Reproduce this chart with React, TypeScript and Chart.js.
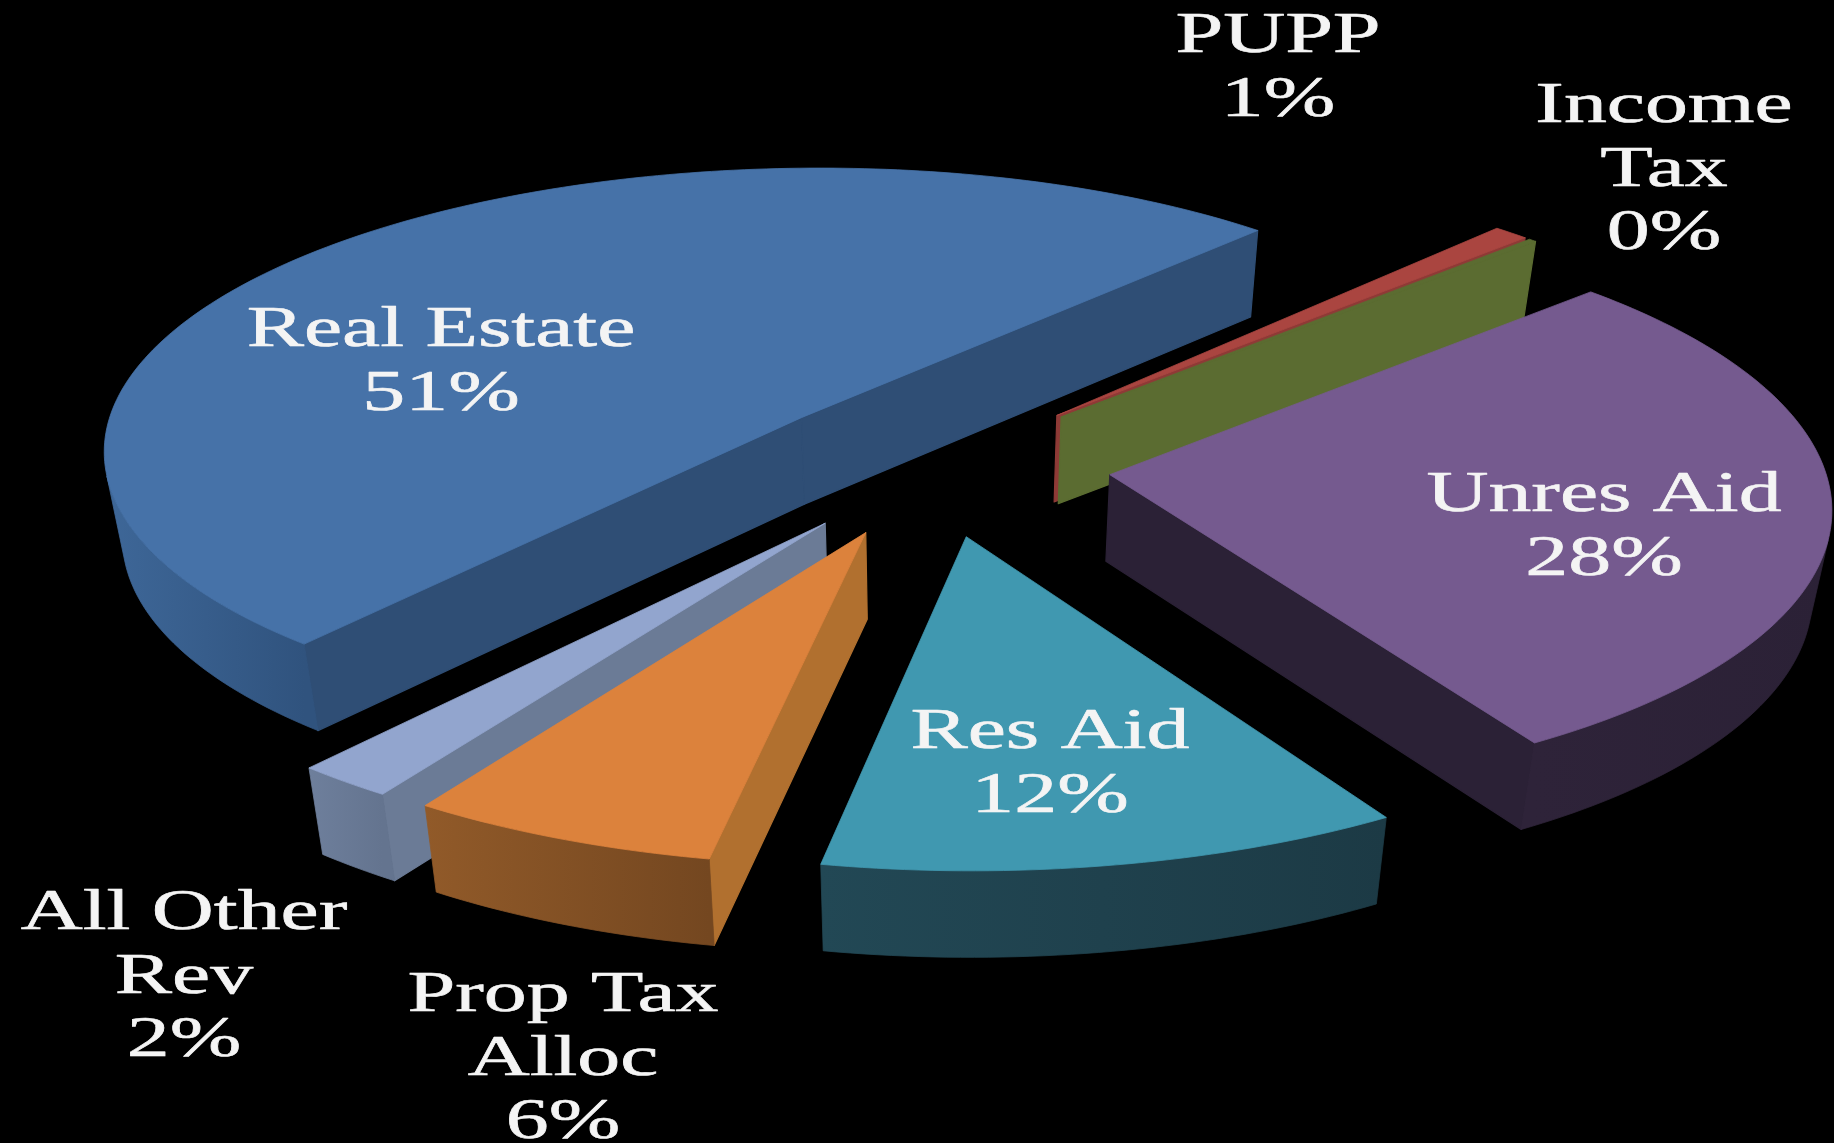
import React, { useEffect, useRef } from "react";
import { Chart, registerables } from "chart.js";

Chart.register(...registerables);

// ---- data ----
const categories = ["Real Estate", "PUPP", "Income Tax", "Unres Aid", "Res Aid", "Prop Tax Alloc", "All Other Rev"];
const shares = [51, 0.9, 0.2, 28.2, 11.7, 6.3, 2];
const explosion = [408, 400, 400, 400, 400, 400, 400];

// ---- styles ----
const topColors = ["#4672A8", "#AA4540", "#5B6C31", "#755A8F", "#4098B0", "#DC823C", "#92A5CE"];
const radialWallColors = ["#2F4E75", "#8E3A36", "#5B6C31", "#2B2136", "#1C3A45", "#B1702F", "#6B7B96"];
const outerWallLight = ["#3E6798", "#8E3A36", "#5B6C31", "#2E2339", "#224855", "#915A29", "#6E7F9C"];
const outerWallDark = ["#30537E", "#8E3A36", "#5B6C31", "#2B2136", "#1C3A45", "#744720", "#64748F"];
const labelLines = [["Real Estate"], ["PUPP"], ["Income", "Tax"], ["Unres Aid"], ["Res Aid"], ["Prop Tax", "Alloc"], ["All Other", "Rev"]];
const labelCenters = [441, 1278, 1664, 1604, 1050, 563, 184];
const labelFirstBaselines = [346, 52, 122, 511, 748, 1011, 929];

const view = { cx: 933.5, cy: 465, rx: 708, ry: 284, persp: 0.102, shear: 32, tilt: 14, depth: 86.5, shrink: 0.022 };

function project(X: number, Y: number, z: number): [number, number] {
  const w = 1 + view.persp * Y;
  const sx = ((view.rx * X - view.shear * Y) / w) * (1 - view.shrink * z);
  const sy = (-view.ry * Y - view.tilt * X) / w;
  return [view.cx + sx, view.cy + sy + view.depth * z];
}

function fillPoly(ctx: CanvasRenderingContext2D, pts: [number, number][], color: any, edge = 0.8) {
  ctx.beginPath();
  pts.forEach((p, i) => (i ? ctx.lineTo(p[0], p[1]) : ctx.moveTo(p[0], p[1])));
  ctx.closePath();
  ctx.fillStyle = color;
  ctx.strokeStyle = color;
  ctx.lineWidth = edge;
  ctx.lineJoin = "round";
  ctx.fill();
  ctx.stroke();
}

function signedArea(pts: [number, number][]) {
  let s = 0;
  pts.forEach((p, i) => {
    const q = pts[(i + 1) % pts.length];
    s += p[0] * q[1] - q[0] * p[1];
  });
  return s;
}

const pie3d = {
  id: "pie3d",
  beforeDatasetsDraw(chart: any) {
    const ctx: CanvasRenderingContext2D = chart.ctx;
    const arcs = chart.getDatasetMeta(0).data;
    const slices = arcs.map((arc: any, index: number) => {
      const { startAngle, endAngle, outerRadius } = arc.getProps(["startAngle", "endAngle", "outerRadius"], true);
      const mid = (startAngle + endAngle) / 2;
      const e = ((arc.options.offset || 0) / 4) / outerRadius;
      return { index, startAngle, endAngle, mid, ox: Math.cos(mid) * e, oy: -Math.sin(mid) * e, color: arc.options.backgroundColor };
    });
    slices.sort((a: any, b: any) => b.oy - a.oy);
    for (const s of slices) {
      const steps = Math.max(2, Math.ceil(((s.endAngle - s.startAngle) / Math.PI) * 180));
      const plane: [number, number][] = [];
      for (let i = 0; i <= steps; i++) {
        const a = s.startAngle + ((s.endAngle - s.startAngle) * i) / steps;
        plane.push([s.ox + Math.cos(a), s.oy - Math.sin(a)]);
      }
      const apex: [number, number] = [s.ox, s.oy];
      const wall = (p: [number, number], q: [number, number]) => [
        project(p[0], p[1], 0),
        project(q[0], q[1], 0),
        project(q[0], q[1], 1),
        project(p[0], p[1], 1),
      ] as [number, number][];
      // radial walls
      for (const [p, q] of [[apex, plane[0]], [plane[plane.length - 1], apex]] as [number, number][][]) {
        const quad = wall(p as any, q as any);
        if (signedArea(quad) < 0) fillPoly(ctx, quad, radialWallColors[s.index], 1.2);
      }
      // outer wall: the visible run of the rim, filled as one shape with a gradient
      const run: [number, number][] = [];
      for (let i = 0; i < steps; i++) {
        if (signedArea(wall(plane[i], plane[i + 1])) < 0) {
          if (!run.length) run.push(plane[i]);
          run.push(plane[i + 1]);
        }
      }
      if (run.length > 1) {
        const topEdge = run.map((p) => project(p[0], p[1], 0));
        const bottomEdge = run.map((p) => project(p[0], p[1], 1)).reverse();
        const xs = topEdge.map((p) => p[0]);
        const grad = ctx.createLinearGradient(Math.min(...xs), 0, Math.max(...xs), 0);
        grad.addColorStop(0, outerWallLight[s.index]);
        grad.addColorStop(1, outerWallDark[s.index]);
        fillPoly(ctx, [...topEdge, ...bottomEdge], grad);
      }
      // top face
      const top: [number, number][] = [project(apex[0], apex[1], 0), ...plane.map((p) => project(p[0], p[1], 0))];
      fillPoly(ctx, top, s.color);
    }
    return false;
  },
  afterDraw(chart: any) {
    const ctx: CanvasRenderingContext2D = chart.ctx;
    const total = shares.reduce((a, b) => a + b, 0);
    ctx.save();
    ctx.fillStyle = "#F4F4F4";
    ctx.strokeStyle = "#F4F4F4";
    ctx.lineWidth = 0.6;
    ctx.textAlign = "center";
    ctx.textBaseline = "alphabetic";
    ctx.font = "58px 'Liberation Serif'";
    categories.forEach((_, i) => {
      const lines = [...labelLines[i], `${Math.round((shares[i] / total) * 100)}%`];
      lines.forEach((line, j) => {
        ctx.save();
        ctx.translate(labelCenters[i], labelFirstBaselines[i] + j * 63.5);
        ctx.scale(1.48, 1);
        ctx.fillText(line, 0, 0);
        ctx.strokeText(line, 0, 0);
        ctx.restore();
      });
    });
    ctx.restore();
  },
};

export default function App() {
  const ref = useRef<HTMLCanvasElement>(null);
  useEffect(() => {
    const chart = new Chart(ref.current as HTMLCanvasElement, {
      type: "pie",
      data: {
        labels: categories,
        datasets: [{ data: shares, backgroundColor: topColors, borderWidth: 0, offset: explosion }],
      },
      options: {
        animation: false,
        responsive: false,
        rotation: 223,
        radius: 400,
        layout: { padding: 0 },
        events: [],
        plugins: { legend: { display: false }, tooltip: { enabled: false } },
      },
      plugins: [pie3d],
    } as any);
    return () => chart.destroy();
  }, []);
  return (
    <div style={{ position: "fixed", left: 0, top: 0, width: 1834, height: 1143, background: "#000", overflow: "hidden" }}>
      <canvas ref={ref} width={1834} height={1143} style={{ display: "block", filter: "blur(0.7px)" }} />
    </div>
  );
}
